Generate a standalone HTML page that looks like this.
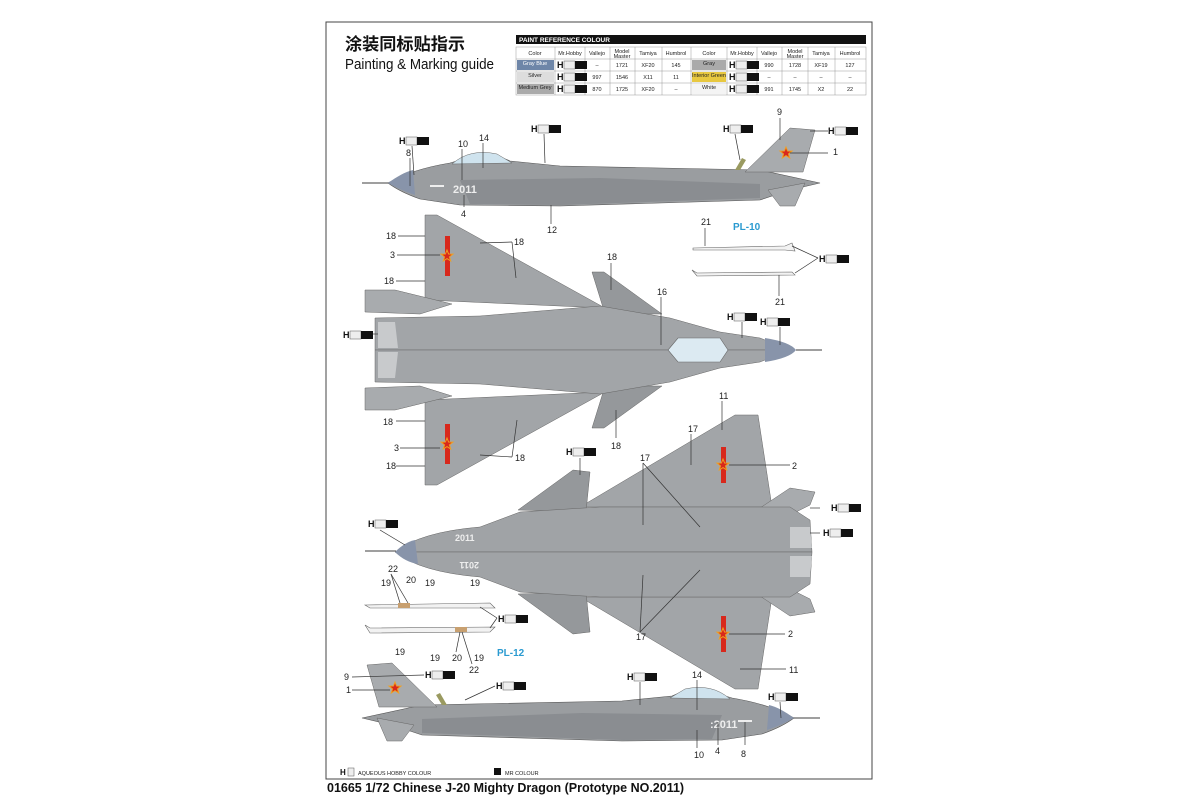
<!DOCTYPE html>
<html><head><meta charset="utf-8"><style>
html,body{margin:0;padding:0;background:#fff;}
svg{display:block;font-family:"Liberation Sans","Noto Sans CJK SC",sans-serif;}
.l{font-size:9px;fill:#222;}
.ln{stroke:#333;stroke-width:0.7;fill:none;}
.t{font-size:5.5px;fill:#222;text-anchor:middle;}
</style></head><body>
<svg width="1200" height="800" viewBox="0 0 1200 800">
<defs>
<g id="star"><polygon points="0,-6 1.6,-2 6,-1.9 2.5,0.9 3.7,5 0,2.6 -3.7,5 -2.5,0.9 -6,-1.9 -1.6,-2" fill="#d8281c" stroke="#f0a020" stroke-width="1"/></g>
<g id="chip"><text x="0" y="0" font-size="9" font-weight="bold" fill="#111">H</text><rect x="7" y="-7" width="11" height="8" fill="#eee" stroke="#555" stroke-width="0.5"/><rect x="18" y="-7" width="12" height="8" fill="#111"/></g>
</defs>
<rect x="326" y="22" width="546" height="757" fill="none" stroke="#444" stroke-width="1"/>
<text x="345" y="50" font-size="17" font-weight="bold" fill="#111" font-family="Noto Sans CJK SC, sans-serif" textLength="120" lengthAdjust="spacingAndGlyphs">涂装同标贴指示</text>
<text x="345" y="69" font-size="15" fill="#111" textLength="149" lengthAdjust="spacingAndGlyphs">Painting &amp; Marking guide</text>

<!-- table -->
<rect x="516" y="35" width="350" height="9" fill="#111"/>
<text x="519" y="42" font-size="6.5" font-weight="bold" fill="#fff">PAINT  REFERENCE COLOUR</text>
<g stroke="#999" stroke-width="0.5" fill="none">
<rect x="516" y="47" width="350" height="48"/>
<line x1="516" y1="59" x2="866" y2="59"/><line x1="516" y1="71" x2="866" y2="71"/><line x1="516" y1="83" x2="866" y2="83"/>
<line x1="555" y1="47" x2="555" y2="95"/><line x1="585" y1="47" x2="585" y2="95"/><line x1="610" y1="47" x2="610" y2="95"/><line x1="635" y1="47" x2="635" y2="95"/><line x1="662" y1="47" x2="662" y2="95"/><line x1="691" y1="47" x2="691" y2="95"/><line x1="727" y1="47" x2="727" y2="95"/><line x1="757" y1="47" x2="757" y2="95"/><line x1="782" y1="47" x2="782" y2="95"/><line x1="808" y1="47" x2="808" y2="95"/><line x1="835" y1="47" x2="835" y2="95"/>
</g>
<rect x="517" y="60" width="37" height="10" fill="#6e86a8"/><rect x="517" y="72" width="37" height="10" fill="#ddd"/><rect x="517" y="84" width="37" height="10" fill="#aaa"/>
<rect x="692" y="60" width="34" height="10" fill="#aaa"/><rect x="692" y="72" width="34" height="10" fill="#e8c840"/><rect x="692" y="84" width="34" height="10" fill="#f4f4f4"/>
<g class="t">
<text x="535" y="55">Color</text><text x="570" y="55">Mr.Hobby</text><text x="597" y="55">Vallejo</text><text x="622" y="53">Model</text><text x="622" y="58">Master</text><text x="648" y="55">Tamiya</text><text x="676" y="55">Humbrol</text>
<text x="709" y="55">Color</text><text x="742" y="55">Mr.Hobby</text><text x="769" y="55">Vallejo</text><text x="795" y="53">Model</text><text x="795" y="58">Master</text><text x="821" y="55">Tamiya</text><text x="850" y="55">Humbrol</text>
<text x="535" y="65" fill="#fff">Gray Blue</text><text x="535" y="77">Silver</text><text x="535" y="89">Medium Grey</text>
<text x="597" y="67">–</text><text x="622" y="67">1721</text><text x="648" y="67">XF20</text><text x="676" y="67">145</text>
<text x="597" y="79">997</text><text x="622" y="79">1546</text><text x="648" y="79">X11</text><text x="676" y="79">11</text>
<text x="597" y="91">870</text><text x="622" y="91">1725</text><text x="648" y="91">XF20</text><text x="676" y="91">–</text>
<text x="709" y="65">Gray</text><text x="709" y="77">Interior Green</text><text x="709" y="89">White</text>
<text x="769" y="67">990</text><text x="795" y="67">1728</text><text x="821" y="67">XF19</text><text x="850" y="67">127</text>
<text x="769" y="79">–</text><text x="795" y="79">–</text><text x="821" y="79">–</text><text x="850" y="79">–</text>
<text x="769" y="91">991</text><text x="795" y="91">1745</text><text x="821" y="91">X2</text><text x="850" y="91">22</text>
</g>
<use href="#chip" x="557" y="68"/><use href="#chip" x="557" y="80"/><use href="#chip" x="557" y="92"/>
<use href="#chip" x="729" y="68"/><use href="#chip" x="729" y="80"/><use href="#chip" x="729" y="92"/>

<!-- top side view -->
<g id="side">
<line x1="362" y1="183" x2="390" y2="183" stroke="#666" stroke-width="1.2"/>
<path d="M388,183 C400,176 420,168 450,163 L470,157 Q490,151 510,161 L560,166 L760,170 L820,183 L790,190 L760,200 L560,206 L460,205 L420,199 Q400,192 388,183 Z" fill="#9a9da0" stroke="#555" stroke-width="0.6"/>
<path d="M460,180 L600,178 L760,184 L760,198 L560,205 L470,204 Z" fill="#8a8d91"/>
<path d="M388,183 C398,176 405,172 413,170 L415,195 Q400,190 388,183Z" fill="#8894aa"/>
<path d="M452,164 Q470,148 497,154 L512,163 Z" fill="#cfe3ee" stroke="#666" stroke-width="0.5"/>
<path d="M745,172 L790,128 L815,130 L803,172 Z" fill="#a8abae" stroke="#666" stroke-width="0.5"/>
<path d="M768,190 L780,206 L795,206 L805,183 Z" fill="#a8abae" stroke="#666" stroke-width="0.5"/>
<path d="M735,170 L742,158 L746,160 L740,170Z" fill="#9a9a60"/>
</g>
<use href="#star" x="786" y="153"/>
<text x="453" y="193" font-size="11" font-weight="bold" fill="#eee">2011</text>
<rect x="430" y="185" width="14" height="2" fill="#eee"/>

<!-- bottom side view (mirrored) -->
<use href="#side" transform="translate(1182,535) scale(-1,1)"/>
<use href="#star" x="395" y="688"/>
<text x="710" y="728" font-size="11" font-weight="bold" fill="#eee">:2011</text>
<rect x="738" y="720" width="14" height="2" fill="#eee"/>

<!-- top view -->
<g id="tv">
<path d="M425,300 L425,215 L437,215 L605,308 Z" fill="#a2a5a8" stroke="#666" stroke-width="0.5"/>
<path d="M592,272 L604,272 L662,314 L605,314 Z" fill="#95989b" stroke="#666" stroke-width="0.5"/>
<path d="M365,290 L395,290 L452,304 L420,314 L365,312Z" fill="#a8abae" stroke="#666" stroke-width="0.5"/>
<path d="M375,350 L375,318 L480,316 L600,306 L670,318 L720,332 L760,338 L790,350 Z" fill="#a2a5a8" stroke="#666" stroke-width="0.5"/>
<path d="M378,322 L395,322 L398,348 L378,348Z" fill="#c8cacc"/>
</g>
<use href="#tv" transform="translate(0,700) scale(1,-1)"/>
<path d="M765,338 Q790,342 796,350 Q790,358 765,362 Z" fill="#8894aa"/>
<line x1="796" y1="350" x2="822" y2="350" stroke="#666" stroke-width="1.2"/>
<path d="M668,350 L678,338 L720,338 L728,350 L720,362 L678,362Z" fill="#dceaf2" stroke="#666" stroke-width="0.6"/>
<rect x="445" y="236" width="5" height="40" fill="#d8281c"/><use href="#star" x="447" y="256"/>
<rect x="445" y="424" width="5" height="40" fill="#d8281c"/><use href="#star" x="447" y="444"/>

<!-- bottom view -->
<g id="bv">
<path d="M580,507 L735,415 L758,415 L772,507Z" fill="#a2a5a8" stroke="#666" stroke-width="0.5"/>
<path d="M518,510 L573,470 L590,472 L586,512Z" fill="#95989b" stroke="#666" stroke-width="0.5"/>
<path d="M760,508 L790,488 L815,492 L810,505 L790,515Z" fill="#a8abae" stroke="#666" stroke-width="0.5"/>
<path d="M395,552 Q420,532 480,527 L520,512 L600,507 L790,507 L810,520 L812,552Z" fill="#a0a3a6" stroke="#666" stroke-width="0.5"/>
<path d="M790,527 L810,527 L812,548 L790,548Z" fill="#c8cacc"/>
</g>
<use href="#bv" transform="translate(0,1104) scale(1,-1)"/>
<path d="M395,552 Q405,542 415,540 L418,564 Q405,562 395,552Z" fill="#8894aa"/>
<line x1="365" y1="551" x2="396" y2="551" stroke="#666" stroke-width="1.2"/>
<text x="455" y="541" font-size="9" font-weight="bold" fill="#eee">2011</text>
<text x="455" y="568" font-size="9" font-weight="bold" fill="#eee" transform="rotate(180 467 565)">2011</text>
<rect x="721" y="447" width="5" height="36" fill="#d8281c"/><use href="#star" x="723" y="465"/>
<rect x="721" y="616" width="5" height="36" fill="#d8281c"/><use href="#star" x="723" y="634"/>

<!-- missiles -->
<g fill="#f2f2f2" stroke="#666" stroke-width="0.6">
<path d="M693,248 L785,246 L792,243 L795,251 L785,250 L693,250Z"/>
<path d="M697,273 L792,272 L795,275 L697,276 L692,270Z"/>
<path d="M365,605 L490,603 L495,608 L370,608Z"/>
<path d="M370,628 L495,627 L490,632 L370,633 L365,625Z"/>
</g>
<rect x="398" y="603" width="12" height="5" fill="#c8a070"/><rect x="455" y="627" width="12" height="5" fill="#c8a070"/>
<text x="733" y="230" font-size="10" font-weight="bold" fill="#2a9ad0">PL-10</text>
<text x="497" y="656" font-size="10" font-weight="bold" fill="#2a9ad0">PL-12</text>

<!-- chips & labels -->
<use href="#chip" x="399" y="144"/><use href="#chip" x="531" y="132"/><use href="#chip" x="723" y="132"/><use href="#chip" x="828" y="134"/>
<use href="#chip" x="819" y="262"/><use href="#chip" x="343" y="338"/><use href="#chip" x="727" y="320"/><use href="#chip" x="760" y="325"/>
<use href="#chip" x="566" y="455"/><use href="#chip" x="368" y="527"/><use href="#chip" x="831" y="511"/><use href="#chip" x="823" y="536"/>
<use href="#chip" x="498" y="622"/><use href="#chip" x="425" y="678"/><use href="#chip" x="496" y="689"/><use href="#chip" x="627" y="680"/><use href="#chip" x="768" y="700"/>
<g class="l">
<text x="406" y="156">8</text><text x="458" y="147">10</text><text x="479" y="141">14</text><text x="461" y="217">4</text><text x="547" y="233">12</text><text x="777" y="115">9</text><text x="833" y="155">1</text>
<text x="701" y="225">21</text><text x="775" y="305">21</text>
<text x="386" y="239">18</text><text x="390" y="258">3</text><text x="384" y="284">18</text><text x="514" y="245">18</text><text x="607" y="260">18</text><text x="657" y="295">16</text>
<text x="383" y="425">18</text><text x="394" y="451">3</text><text x="386" y="469">18</text><text x="515" y="461">18</text><text x="611" y="449">18</text>
<text x="719" y="399">11</text><text x="688" y="432">17</text><text x="640" y="461">17</text><text x="792" y="469">2</text><text x="636" y="640">17</text><text x="788" y="637">2</text><text x="789" y="673">11</text>
<text x="388" y="572">22</text><text x="406" y="583">20</text><text x="381" y="586">19</text><text x="425" y="586">19</text><text x="470" y="586">19</text>
<text x="395" y="655">19</text><text x="430" y="661">19</text><text x="452" y="661">20</text><text x="474" y="661">19</text><text x="469" y="673">22</text>
<text x="344" y="680">9</text><text x="346" y="693">1</text><text x="692" y="678">14</text><text x="694" y="758">10</text><text x="715" y="754">4</text><text x="741" y="757">8</text>
</g>
<g class="ln">
<line x1="412" y1="146" x2="414" y2="175"/><line x1="410" y1="158" x2="410" y2="186"/><line x1="462" y1="149" x2="462" y2="180"/><line x1="483" y1="143" x2="483" y2="168"/><line x1="464" y1="195" x2="464" y2="207"/><line x1="551" y1="205" x2="551" y2="224"/><line x1="544" y1="134" x2="545" y2="163"/><line x1="735" y1="134" x2="740" y2="160"/><line x1="780" y1="118" x2="780" y2="140"/><line x1="790" y1="153" x2="828" y2="153"/><line x1="810" y1="131" x2="828" y2="131"/>
<line x1="705" y1="228" x2="705" y2="246"/><line x1="779" y1="296" x2="779" y2="275"/><line x1="818" y1="258" x2="792" y2="246"/><line x1="818" y1="258" x2="795" y2="273"/>
<line x1="398" y1="236" x2="425" y2="236"/><line x1="397" y1="255" x2="440" y2="255"/><line x1="396" y1="281" x2="425" y2="281"/><line x1="512" y1="242" x2="480" y2="243"/><line x1="512" y1="242" x2="516" y2="278"/><line x1="611" y1="263" x2="611" y2="290"/><line x1="661" y1="297" x2="661" y2="345"/><line x1="742" y1="322" x2="742" y2="338"/><line x1="780" y1="327" x2="780" y2="345"/><line x1="373" y1="334" x2="378" y2="334"/>
<line x1="396" y1="421" x2="425" y2="421"/><line x1="400" y1="448" x2="440" y2="448"/><line x1="396" y1="466" x2="425" y2="466"/><line x1="512" y1="457" x2="480" y2="455"/><line x1="512" y1="457" x2="517" y2="420"/><line x1="616" y1="438" x2="616" y2="410"/>
<line x1="722" y1="401" x2="722" y2="430"/><line x1="691" y1="434" x2="691" y2="465"/><line x1="643" y1="463" x2="643" y2="525"/><line x1="643" y1="463" x2="700" y2="527"/><line x1="729" y1="465" x2="790" y2="465"/><line x1="729" y1="634" x2="785" y2="634"/><line x1="640" y1="632" x2="643" y2="575"/><line x1="640" y1="632" x2="700" y2="570"/><line x1="740" y1="669" x2="786" y2="669"/>
<line x1="580" y1="458" x2="580" y2="475"/><line x1="380" y1="530" x2="405" y2="545"/><line x1="820" y1="508" x2="810" y2="508"/><line x1="820" y1="533" x2="810" y2="533"/>
<line x1="391" y1="574" x2="400" y2="603"/><line x1="391" y1="574" x2="408" y2="603"/><line x1="497" y1="618" x2="480" y2="607"/><line x1="497" y1="618" x2="490" y2="628"/><line x1="456" y1="652" x2="460" y2="632"/><line x1="472" y1="664" x2="462" y2="632"/>
<line x1="352" y1="677" x2="424" y2="675"/><line x1="352" y1="690" x2="390" y2="690"/><line x1="495" y1="686" x2="465" y2="700"/><line x1="640" y1="682" x2="640" y2="705"/><line x1="697" y1="680" x2="697" y2="710"/><line x1="697" y1="730" x2="697" y2="748"/><line x1="718" y1="722" x2="718" y2="745"/><line x1="745" y1="722" x2="745" y2="745"/><line x1="780" y1="702" x2="781" y2="718"/>
</g>

<!-- footer -->
<text x="340" y="775" font-size="8" font-weight="bold" fill="#111">H</text><rect x="348" y="768" width="6" height="8" fill="#eee" stroke="#555" stroke-width="0.5"/>
<text x="358" y="775" font-size="5.5" fill="#222">AQUEOUS HOBBY COLOUR</text>
<rect x="494" y="768" width="7" height="7" fill="#111"/><text x="505" y="775" font-size="5.5" fill="#222">MR COLOUR</text>
<text x="327" y="792" font-size="12.5" font-weight="bold" fill="#111">01665 1/72  Chinese J-20 Mighty Dragon (Prototype NO.2011)</text>
</svg>
</body></html>
